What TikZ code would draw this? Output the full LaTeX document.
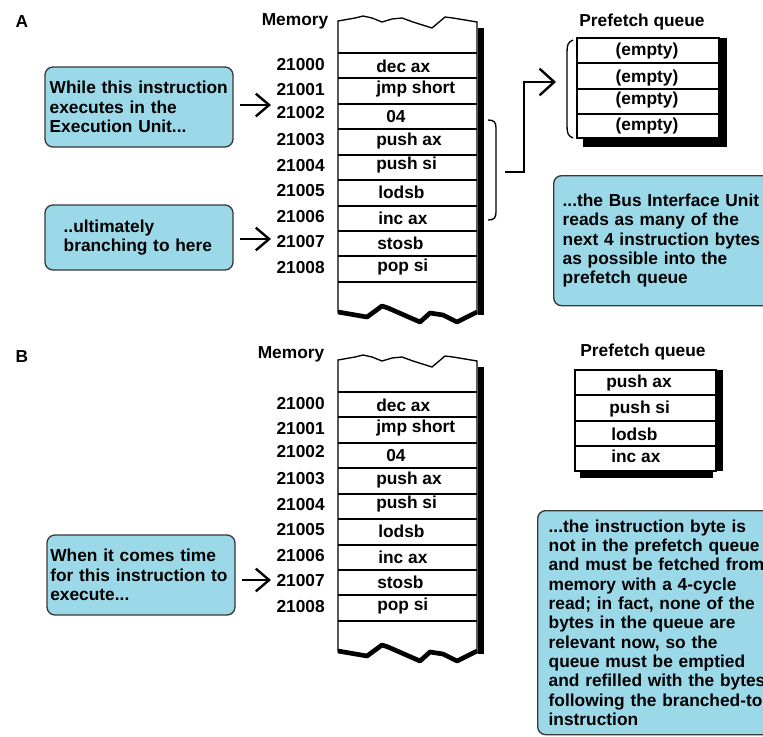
\documentclass[tikz,border=0pt]{standalone}
\usepackage{fontspec}
\setmainfont{Liberation Sans}
\usetikzlibrary{arrows.meta}
\definecolor{cbfill}{HTML}{9BD9E9}
\definecolor{cbedge}{HTML}{383838}
\tikzset{
  txt/.style={font=\fontsize{13pt}{14.5pt}\selectfont\bfseries, inner sep=0pt},
  callout/.style={txt, draw=cbedge, fill=cbfill, rounded corners=6pt, line width=1pt, align=left},
  arr/.style={line width=1.8pt, -{Straight Barb[length=10pt,width=17pt,line width=1.8pt]}},
  thin/.style={line width=0.9pt},
}
\newcommand\memcol[2]{%
 \begin{scope}[shift={(0,#2)}]
  \fill[black] (478,28) rectangle (484,315);
  \filldraw[fill=white, draw=black, line width=1pt] (338,21) -- (355,18) -- (363,16) -- (372,18) -- (382,22) -- (392,19) -- (402,18) -- (413,22) -- (432,28) -- (445,17) -- (453,18) -- (477,22) -- (477,312) -- (457,322) -- (443,315) -- (430,313) -- (420,322) -- (388,308) -- (382,306) -- (367,317) -- (338,312) -- cycle;
  \draw[line width=3.5pt, line join=round] (477,312) -- (457,322) -- (443,315) -- (430,313) -- (420,322) -- (388,308) -- (382,306) -- (367,317) -- (338,312);
  \foreach \yy in {53,78,104,129,155,180,206,231,256,282} \draw[thin] (338,\yy) -- (477,\yy);
  \node[txt, anchor=west] (#1c0) at (376,66) {dec ax};
  \node[txt, anchor=west] (#1c1) at (376,89) {jmp short};
  \node[txt, anchor=west] (#1c2) at (386,117) {04};
  \node[txt, anchor=west] (#1c3) at (376,141) {push ax};
  \node[txt, anchor=west] (#1c4) at (376,165) {push si};
  \node[txt, anchor=west] (#1c5) at (378,192) {lodsb};
  \node[txt, anchor=west] (#1c6) at (378,218) {inc ax};
  \node[txt, anchor=west] (#1c7) at (377,243) {stosb};
  \node[txt, anchor=west] (#1c8) at (377,267) {pop si};
  \node[txt, anchor=east] (#1a0) at (325,65) {21000};
  \node[txt, anchor=east] (#1a1) at (325,90) {21001};
  \node[txt, anchor=east] (#1a2) at (325,113) {21002};
  \node[txt, anchor=east] (#1a3) at (325,140) {21003};
  \node[txt, anchor=east] (#1a4) at (325,166) {21004};
  \node[txt, anchor=east] (#1a5) at (325,191) {21005};
  \node[txt, anchor=east] (#1a6) at (325,217) {21006};
  \node[txt, anchor=east] (#1a7) at (325,242) {21007};
  \node[txt, anchor=east] (#1a8) at (325,268) {21008};
 \end{scope}}
\begin{document}
\begin{tikzpicture}[x=0.75pt, y=-0.75pt]
\useasboundingbox (0,0) rectangle (763,736);
\clip (0,0) rectangle (763,736);
\fill[white] (0,0) rectangle (763,736);

% ---------------- Part A ----------------
\node[txt] (labA) at (22,22) {A};
\node[txt] (memA) at (295,21) {Memory};
\memcol{A}{0}

% prefetch queue A
\node[txt] (pqA) at (642,22) {Prefetch queue};
\fill[black] (719,38) rectangle (727,140);
\fill[black] (583,138) rectangle (727,147);
\filldraw[fill=white, draw=black, line width=1pt] (577,38) rectangle (719,138);
\foreach \yy in {63,89,114} \draw[thin] (577,\yy) -- (719,\yy);
\node[txt] (qA0) at (647,51) {(empty)};
\node[txt] (qA1) at (647,78) {(empty)};
\node[txt] (qA2) at (647,100) {(empty)};
\node[txt] (qA3) at (647,126) {(empty)};
\draw[line width=1pt] (573,40) .. controls (568,42) and (567,45) .. (567,52) -- (567,126) .. controls (567,133) and (568,136) .. (573,138);

% brace and arrow to queue
\draw[line width=1pt] (488,120) .. controls (494,120) and (496,122) .. (496,128) -- (496,212) .. controls (496,218) and (494,220) .. (488,220);
\coordinate (brc) at (505,172);
\coordinate (qin) at (556,82);
\draw[line width=1.8pt, -{Straight Barb[length=11pt,width=20pt,line width=1.8pt]}] (brc) -- ++(19,0) |- (qin);

% callouts A
\node[callout, minimum width=141pt, minimum height=60pt, text width=134pt] (cA1) at (139,107)
  {While this instruction\\executes in the\\Execution Unit...};
\node[callout, minimum width=141pt, minimum height=48.75pt, text width=113pt] (cA2) at (139,237.5)
  {..ultimately\\branching to here};
\node[callout, anchor=north west, minimum height=97.5pt, inner xsep=6.75pt, text width=185pt] (cA3) at (553,175)
  {...the Bus Interface Unit\\reads as many of the\\next 4 instruction bytes\\as possible into the\\prefetch queue};

\coordinate (tA1) at (271,105);
\coordinate (tA2) at (271,239);
\draw[arr, shorten <=5pt] (cA1.east |- tA1) -- (tA1);
\draw[arr, shorten <=5pt] (cA2.east |- tA2) -- (tA2);

% ---------------- Part B ----------------
\node[txt] (labB) at (22,357) {B};
\node[txt] (memB) at (291,354) {Memory};
\memcol{B}{339}

\node[txt] (pqB) at (643,352) {Prefetch queue};
\fill[black] (716,370) rectangle (723,471);
\fill[black] (580,471) rectangle (713,478);
\filldraw[fill=white, draw=black, line width=1pt] (575,370) rectangle (716,471);
\foreach \yy in {395,421,446} \draw[thin] (575,\yy) -- (716,\yy);
\node[txt, anchor=west] (qB0) at (606,383) {push ax};
\node[txt, anchor=west] (qB1) at (609,409) {push si};
\node[txt, anchor=west] (qB2) at (611,434) {lodsb};
\node[txt, anchor=west] (qB3) at (611,456) {inc ax};

\node[callout, minimum width=141pt, minimum height=60pt, text width=136pt] (cB1) at (141,575)
  {When it comes time\\for this instruction to\\execute...};
\node[callout, anchor=north west, minimum height=168pt, inner xsep=8.25pt, text width=190pt] (cB2) at (537,510)
  {...the instruction byte is\\not in the prefetch queue\\and must be fetched from\\memory with a 4-cycle\\read; in fact, none of the\\bytes in the queue are\\relevant now, so the\\queue must be emptied\\and refilled with the bytes\\following the branched-to\\instruction};

\coordinate (tB1) at (271,580);
\draw[arr, shorten <=5pt] (cB1.east |- tB1) -- (tB1);
\end{tikzpicture}
\end{document}
